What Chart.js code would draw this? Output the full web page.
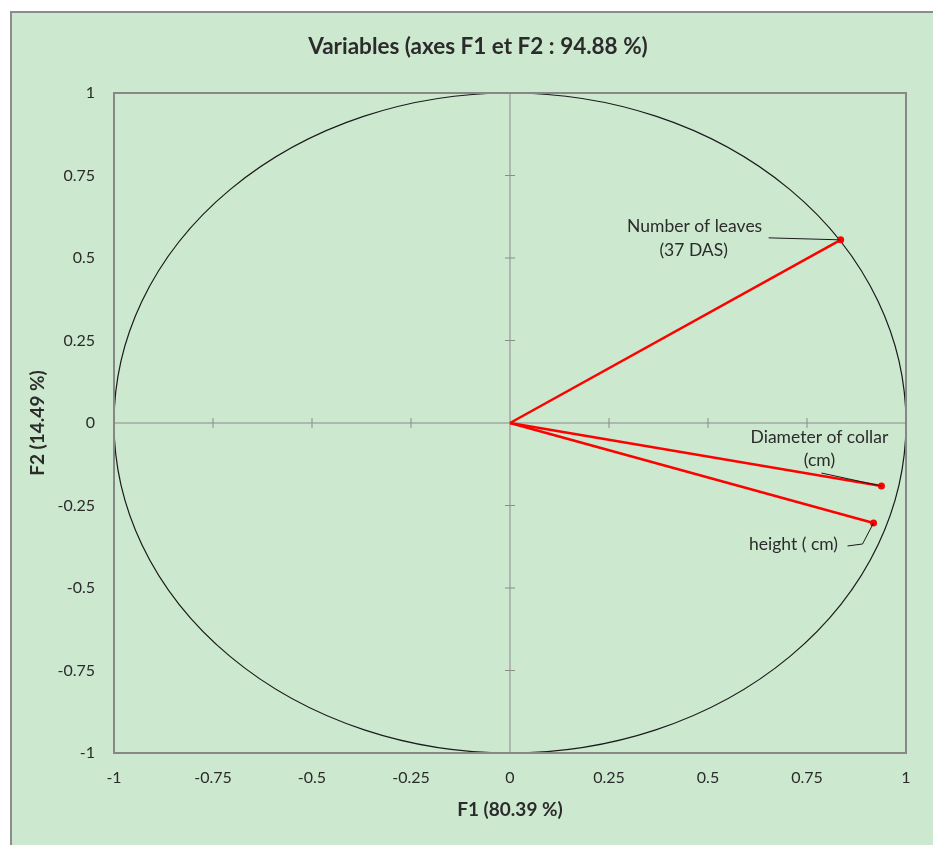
<!DOCTYPE html>
<html>
<head>
<meta charset="utf-8">
<script src="https://cdn.jsdelivr.net/npm/chart.js@4"></script>
<style>
  html, body { margin: 0; padding: 0; background: #ffffff; width: 933px; height: 845px; overflow: hidden; }
  #frame { position: absolute; left: 10px; top: 11px; width: 921px; height: 832px;
           background: #cce8cf; border-left: 2px solid #8c8c8c; border-top: 2px solid #8c8c8c; }
  #c { display: block; }
</style>
</head>
<body>
<div id="frame"><canvas id="c" width="921" height="832"></canvas></div>
<script>
// ---- data ----
const variables = ["Number of leaves (37 DAS)", "Diameter of collar (cm)", "height ( cm)"];
const labelLines = [["Number of leaves", "(37 DAS)"], ["Diameter of collar", "(cm)"], ["height ( cm)"]];
const f1 = [0.835, 0.938, 0.918];
const f2 = [0.555, -0.191, -0.303];
const xTickLabels = ["-1", "-0.75", "-0.5", "-0.25", "0", "0.25", "0.5", "0.75", "1"];
const yTickLabels = ["-1", "-0.75", "-0.5", "-0.25", "0", "0.25", "0.5", "0.75", "1"];
const tickValues = [-1, -0.75, -0.5, -0.25, 0, 0.25, 0.5, 0.75, 1];
const chartTitle = "Variables (axes F1 et F2 : 94.88 %)";
const xTitle = "F1 (80.39 %)";
const yTitle = "F2 (14.49 %)";

const FONT = "Lato, 'Open Sans', sans-serif";
const TEXT = "#2b2b2b";

// label layout (offsets from point, pixels) — styling only
const labelLayout = [
  { text: [[-146, -13], [-147, 11]], leader: [[-72, -2]] },
  { text: [[-62, -49], [-62, -26]], leader: [[-60, -13]] },
  { text: [[-80, 21]], leader: [[-26, 23], [-11, 21]] }
];

const datasets = variables.map((v, i) => ({
  label: v,
  data: [{ x: 0, y: 0 }, { x: f1[i], y: f2[i] }],
  showLine: true,
  borderColor: "#ff0000",
  backgroundColor: "#ff0000",
  borderWidth: 2.5,
  pointRadius: [0, 3.5],
  pointHoverRadius: [0, 3.5],
  pointBorderWidth: 0,
  pointBackgroundColor: "#ff0000"
}));

const decor = {
  id: "decor",
  beforeDatasetsDraw(chart) {
    const { ctx, chartArea: a, scales: { x, y } } = chart;
    const cx = x.getPixelForValue(0), cy = y.getPixelForValue(0);
    ctx.save();
    ctx.strokeStyle = "#8c8c8c";
    ctx.lineWidth = 1;
    ctx.beginPath();
    ctx.moveTo(a.left, cy); ctx.lineTo(a.right, cy);
    ctx.moveTo(cx, a.top); ctx.lineTo(cx, a.bottom);
    tickValues.forEach(t => {
      if (t === 0) return;
      const px = x.getPixelForValue(t);
      ctx.moveTo(px, cy - 5); ctx.lineTo(px, cy + 5);
      const py = y.getPixelForValue(t);
      ctx.moveTo(cx - 5, py); ctx.lineTo(cx + 5, py);
    });
    ctx.stroke();
    const rx = x.getPixelForValue(1) - cx;
    const ry = cy - y.getPixelForValue(1);
    ctx.strokeStyle = "#1a1a1a";
    ctx.lineWidth = 1.2;
    ctx.beginPath();
    ctx.ellipse(cx, cy, rx, ry, 0, 0, Math.PI * 2);
    ctx.stroke();
    ctx.strokeStyle = "#878787";
    ctx.lineWidth = 2;
    ctx.strokeRect(a.left, a.top, a.right - a.left, a.bottom - a.top);
    ctx.restore();
  },
  afterDatasetsDraw(chart) {
    const { ctx, scales: { x, y } } = chart;
    ctx.save();
    variables.forEach((v, i) => {
      const px = x.getPixelForValue(f1[i]), py = y.getPixelForValue(f2[i]);
      const L = labelLayout[i];
      ctx.strokeStyle = "#1a1a1a";
      ctx.lineWidth = 1;
      ctx.beginPath();
      ctx.moveTo(px + L.leader[0][0], py + L.leader[0][1]);
      for (let k = 1; k < L.leader.length; k++) ctx.lineTo(px + L.leader[k][0], py + L.leader[k][1]);
      ctx.lineTo(px, py);
      ctx.stroke();
      ctx.fillStyle = TEXT;
      ctx.font = "17.5px " + FONT;
      ctx.textAlign = "center";
      ctx.textBaseline = "middle";
      labelLines[i].forEach((s, k) => {
        ctx.fillText(s, px + L.text[k][0], py + L.text[k][1]);
      });
    });
    ctx.fillStyle = TEXT;
    ctx.textAlign = "center";
    ctx.textBaseline = "middle";
    ctx.font = "bold 22.5px " + FONT;
    ctx.fillText(chartTitle, 466, 34);
    ctx.font = "bold 19px " + FONT;
    ctx.fillText(xTitle, x.getPixelForValue(0), 797);
    ctx.save();
    ctx.translate(26, y.getPixelForValue(0));
    ctx.rotate(-Math.PI / 2);
    ctx.fillText(yTitle, 0, 0);
    ctx.restore();
    ctx.restore();
  }
};

new Chart(document.getElementById("c"), {
  type: "scatter",
  data: { datasets },
  options: {
    responsive: false,
    animation: false,
    events: [],
    layout: { padding: { left: 0, top: 80, right: 27, bottom: 0 } },
    plugins: { legend: { display: false }, tooltip: { enabled: false }, title: { display: false } },
    scales: {
      x: {
        type: "linear", min: -1, max: 1,
        afterBuildTicks: s => { s.ticks = tickValues.map(v => ({ value: v })); },
        afterFit: s => { s.height = 92; },
        grid: { display: false, drawTicks: false },
        border: { display: false },
        ticks: { padding: 15, color: TEXT, font: { family: FONT, size: 16 },
                 callback: (v, i) => xTickLabels[i] }
      },
      y: {
        type: "linear", min: -1, max: 1,
        afterBuildTicks: s => { s.ticks = tickValues.map(v => ({ value: v })); },
        afterFit: s => { s.width = 102; },
        grid: { display: false, drawTicks: false },
        border: { display: false },
        ticks: { padding: 19, color: TEXT, font: { family: FONT, size: 16 },
                 callback: (v, i) => yTickLabels[i] }
      }
    }
  },
  plugins: [decor]
});
</script>
</body>
</html>
